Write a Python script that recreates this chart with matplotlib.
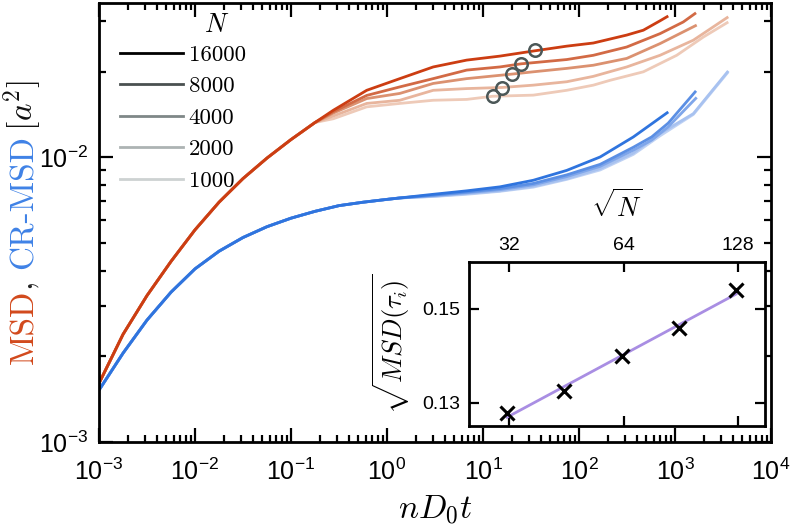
import numpy as np
import matplotlib
matplotlib.use("Agg")
import matplotlib.pyplot as plt
from matplotlib.ticker import LogLocator, NullFormatter, FixedLocator, FixedFormatter
from matplotlib.lines import Line2D

plt.rcParams['font.family'] = ['Liberation Sans', 'DejaVu Sans']
plt.rcParams['mathtext.fontset'] = 'cm'

# ---------------- data ----------------
N_values = [16000, 8000, 4000, 2000, 1000]

# shared early part of the MSD curves
t_msd_early = [0.001, 0.00178, 0.00316, 0.00562, 0.01, 0.0178, 0.0316, 0.0562, 0.1, 0.126, 0.178]
msd_early = [0.001607, 0.002388, 0.003266, 0.004305, 0.005559, 0.006950, 0.008414, 0.009931,
             0.011535, 0.012190, 0.013243]

t_msd_16000 = [0.276, 0.615, 1.36, 3.03, 6.76, 15.0, 33.4, 74.5, 141, 314, 468, 698, 851]
msd_16000 = [0.01462, 0.01718, 0.01888, 0.02075, 0.02193, 0.02265, 0.02360, 0.02455, 0.02518, 0.02685, 0.02793, 0.03013, 0.03133]

t_msd_8000 = [0.276, 0.615, 1.36, 3.03, 6.76, 15.0, 24.9, 74.5, 141, 314, 698, 1219, 1656]
msd_8000 = [0.01445, 0.01648, 0.01766, 0.01888, 0.02023, 0.02075, 0.02128, 0.02203, 0.02280, 0.02438, 0.02716, 0.02985, 0.03214]

t_msd_4000 = [0.276, 0.615, 1.36, 3.03, 6.76, 20.2, 33.4, 74.5, 141, 314, 698, 1683]
msd_4000 = [0.01429, 0.01607, 0.01675, 0.01816, 0.01888, 0.01959, 0.01995, 0.02051, 0.02104, 0.02223, 0.02506, 0.02911]

t_msd_2000 = [0.276, 0.615, 1.36, 3.03, 6.76, 15.9, 33.4, 74.5, 141, 314, 698, 1552, 3590]
msd_2000 = [0.01396, 0.01545, 0.01585, 0.01718, 0.01742, 0.01758, 0.01791, 0.01841, 0.01923, 0.02075, 0.02280, 0.02576, 0.03112]

t_msd_1000 = [0.276, 0.615, 1.36, 3.03, 6.76, 12.6, 33.4, 74.5, 141, 210, 468, 1042, 1972, 3590]
msd_1000 = [0.01365, 0.01503, 0.01545, 0.01585, 0.01596, 0.01637, 0.01652, 0.01718, 0.01791, 0.01862, 0.01995, 0.02280, 0.02642, 0.02985]

# shared early part of the CR-MSD curves
t_cr_early = [0.001, 0.00178, 0.00316, 0.00562, 0.01, 0.0178, 0.0316, 0.0562, 0.1, 0.178, 0.316,
              0.562, 1.0, 1.36]
cr_early = [0.001521, 0.002051, 0.002679, 0.003357, 0.004055, 0.004677, 0.005224, 0.005702,
            0.006109, 0.006457, 0.006761, 0.006950, 0.007112, 0.007194]

t_cr_16000 = [3.03, 6.76, 15.0, 33.4, 74.5, 166, 368, 851]
cr_16000 = [0.00741, 0.00762, 0.00787, 0.00830, 0.00899, 0.01002, 0.01178, 0.01442]

t_cr_8000 = [3.03, 6.76, 15.0, 33.4, 74.5, 166, 368, 571, 851, 1656]
cr_8000 = [0.00736, 0.00755, 0.00776, 0.00809, 0.00867, 0.00944, 0.01084, 0.01178, 0.01318, 0.01710]

t_cr_4000 = [3.03, 6.76, 15.0, 33.4, 74.5, 166, 368, 571, 851, 1683]
cr_4000 = [0.00733, 0.00750, 0.00769, 0.00800, 0.00855, 0.00929, 0.01059, 0.01148, 0.01279, 0.01622]

t_cr_2000 = [3.03, 6.76, 15.0, 33.4, 74.5, 166, 368, 698, 1552, 3590]
cr_2000 = [0.00729, 0.00745, 0.00762, 0.00791, 0.00841, 0.00912, 0.01035, 0.01211, 0.01422, 0.02009]

t_cr_1000 = [3.03, 6.76, 15.0, 33.4, 74.5, 166, 368, 698, 1552, 3590]
cr_1000 = [0.00728, 0.00741, 0.00759, 0.00785, 0.00836, 0.00902, 0.01023, 0.01189, 0.01413, 0.01995]

# tau_i markers (for N = 1000, 2000, 4000, 8000, 16000)
N_tau = [1000, 2000, 4000, 8000, 16000]
tau_i = [12.6, 15.9, 20.2, 24.9, 34.8]
msd_tau = [0.01637, 0.01757, 0.01958, 0.02129, 0.02372]

# ---------------- styles ----------------
red_cols = ['#cc3d12', '#d26a45', '#db9170', '#e8b59d', '#eecab8']
blue_cols = ['#2f74de', '#5b8fe4', '#7fa6ea', '#a8c2f0', '#bfd2f4']
gray_cols = ['#000000', '#4a5050', '#7f8787', '#adb3b3', '#cdd2d2']

t_msd_tails = [t_msd_16000, t_msd_8000, t_msd_4000, t_msd_2000, t_msd_1000]
msd_tails = [msd_16000, msd_8000, msd_4000, msd_2000, msd_1000]
t_cr_tails = [t_cr_16000, t_cr_8000, t_cr_4000, t_cr_2000, t_cr_1000]
cr_tails = [cr_16000, cr_8000, cr_4000, cr_2000, cr_1000]

W, H = 796, 526
fig = plt.figure(figsize=(W / 100, H / 100), dpi=100)
ax = fig.add_axes([99 / W, 1 - 442 / H, (771 - 99) / W, (442 - 3) / H])

for i in reversed(range(5)):
    ax.plot(t_cr_early + t_cr_tails[i], cr_early + cr_tails[i], color=blue_cols[i], lw=2,
            solid_capstyle='butt', solid_joinstyle='round')
for i in reversed(range(5)):
    ax.plot(t_msd_early + t_msd_tails[i], msd_early + msd_tails[i], color=red_cols[i], lw=2,
            solid_capstyle='butt', solid_joinstyle='round')

ax.plot(tau_i, msd_tau, linestyle='none', marker='o', ms=9, mfc='none', mec='#4b5757', mew=1.8, zorder=5)

ax.set_xscale('log')
ax.set_yscale('log')
ax.set_xlim(1e-3, 1e4)
ax.set_ylim(1e-3, 0.0348)
ax.xaxis.set_major_locator(LogLocator(base=10, numticks=20))
ax.xaxis.set_minor_locator(LogLocator(base=10, subs=np.arange(2, 10), numticks=20))
ax.yaxis.set_minor_locator(LogLocator(base=10, subs=np.arange(2, 10), numticks=20))
ax.xaxis.set_minor_formatter(NullFormatter())
ax.yaxis.set_minor_formatter(NullFormatter())
ax.tick_params(which='both', direction='in', top=True, right=True, width=1.6, labelsize=18)
ax.tick_params(which='major', length=10)
ax.tick_params(axis='x', which='major', pad=12)
ax.tick_params(axis='y', which='major', pad=8)
ax.tick_params(which='minor', length=5)
for s in ax.spines.values():
    s.set_linewidth(2)
ax.set_xlabel(r'$nD_0t$', fontsize=24, labelpad=6)

# legend
handles = [Line2D([], [], color=c, lw=2) for c in gray_cols]
leg = ax.legend(handles, [str(n) for n in N_values], loc='upper left',
                bbox_to_anchor=(0.031, 0.905), frameon=False, borderpad=0, borderaxespad=0,
                handlelength=2.75, handletextpad=0.25, labelspacing=0.5,
                prop={'family': 'cmr10', 'size': 16.5})
ax.text(0.1756, 0.95, r'$N$', transform=ax.transAxes, fontsize=19, ha='center', va='center')

# multicolored y label
fig.canvas.draw()
renderer = fig.canvas.get_renderer()
parts = [('MSD', '#d2491c', 'cmr10'), (', ', '#222222', 'cmr10'), ('CR-MSD', '#3f82e6', 'cmr10'),
         (r'$\,[a^2]$', '#111111', None)]
objs = []
for s, c, fam in parts:
    kw = dict(color=c, fontsize=24, rotation=90, rotation_mode='anchor', ha='left', va='baseline')
    if fam:
        kw['family'] = fam
    objs.append(fig.text(0, 0, s, **kw))
lengths = [o.get_window_extent(renderer).height for o in objs]
total = sum(lengths)
y_center = H - 222
y0 = y_center - total / 2
xb = 33
for o, L in zip(objs, lengths):
    o.set_position((xb / W, y0 / H))
    y0 += L

# inset
ins = fig.add_axes([469 / W, 1 - 426 / H, (765 - 469) / W, (426 - 262) / H])
sqrtN = np.sqrt(np.array(N_tau, dtype=float))
root_msd = np.sqrt(np.array(msd_tau))
coef = np.polyfit(np.log2(sqrtN), root_msd, 1)
ins.plot(sqrtN, np.polyval(coef, np.log2(sqrtN)), color='#a98ee3', lw=2)
ins.plot(sqrtN, root_msd, linestyle='none', marker='x', ms=10, mew=2.2, color='black')
ins.set_xscale('log', base=2)
ins.set_xlim(25.1, 150.8)
ins.set_ylim(0.1251, 0.1600)
ins.xaxis.set_major_locator(FixedLocator([32, 64, 128]))
ins.xaxis.set_major_formatter(FixedFormatter(['32', '64', '128']))
ins.xaxis.set_minor_locator(FixedLocator([]))
ins.yaxis.set_major_locator(FixedLocator([0.13, 0.15]))
ins.yaxis.set_major_formatter(FixedFormatter(['0.13', '0.15']))
ins.tick_params(which='both', direction='in', top=True, right=True, bottom=True,
                labeltop=True, labelbottom=False, width=1.6, length=7, labelsize=14, pad=6)
for s in ins.spines.values():
    s.set_linewidth(2)
ins.xaxis.set_label_position('top')
ins.set_xlabel(r'$\sqrt{N}$', fontsize=19, labelpad=14)
ins.set_ylabel(r'$\sqrt{MSD(\tau_i)}$', fontsize=19, labelpad=8)

fig.savefig('out.png', dpi=100)
